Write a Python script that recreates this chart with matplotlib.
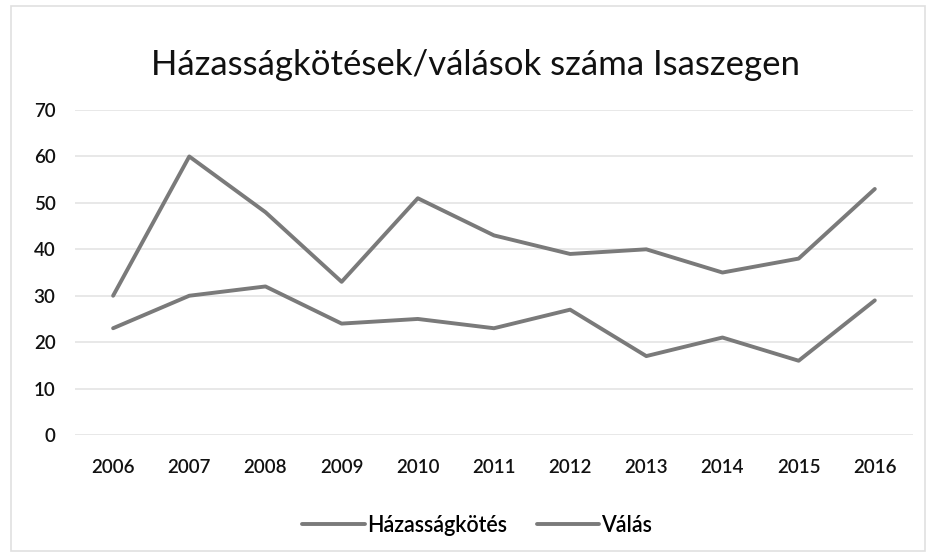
import matplotlib.pyplot as plt
from matplotlib.patches import Rectangle

# adatok
evek = ["2006", "2007", "2008", "2009", "2010", "2011",
        "2012", "2013", "2014", "2015", "2016"]
hazassagkotes = [30, 60, 48, 33, 51, 43, 39, 40, 35, 38, 53]
valas = [23, 30, 32, 24, 25, 23, 27, 17, 21, 16, 29]

cim = "Házasságkötések/válások száma Isaszegen"
szurke = "#7a7a7a"

plt.rcParams["font.family"] = ["Lato", "DejaVu Sans"]

fig = plt.figure(figsize=(9.32, 5.58), dpi=100)
ax = fig.add_axes([0.0805, 0.2204, 0.899, 0.5824])

x = range(len(evek))
ax.plot(x, hazassagkotes, color=szurke, linewidth=2.8, label="Házasságkötés",
        solid_capstyle="round", solid_joinstyle="round")
ax.plot(x, valas, color=szurke, linewidth=2.8, label="Válás",
        solid_capstyle="round", solid_joinstyle="round")

ax.set_xlim(-0.5, len(evek) - 0.5)
ax.set_ylim(0, 70)
ax.set_yticks(range(0, 71, 10))
ax.set_xticks(list(x))
ax.set_xticklabels(evek)
ax.tick_params(axis="both", length=0, labelsize=13.5, colors="#111111")
ax.tick_params(axis="x", pad=17)
ax.tick_params(axis="y", pad=14)
for lbl in ax.get_xticklabels() + ax.get_yticklabels():
    lbl.set_fontweight("semibold")
ax.grid(axis="y", color="#e4e4e4", linewidth=1.2)
ax.set_axisbelow(True)
for s in ax.spines.values():
    s.set_visible(False)

fig.text(0.51, 0.883, cim, ha="center", va="center", fontsize=25,
         color="#111111")

leg = fig.legend(loc="center", bbox_to_anchor=(0.512, 0.059), ncol=2,
                 frameon=False, prop={"size": 15.5, "weight": "semibold"},
                 handlelength=2.9, handletextpad=0.1, columnspacing=1.4)

# keret
fig.patches.append(Rectangle((0.012, 0.012), 0.98, 0.978,
                             transform=fig.transFigure, fill=False,
                             edgecolor="#e0e0e0", linewidth=1.2))

fig.savefig("out.png", dpi=100)
